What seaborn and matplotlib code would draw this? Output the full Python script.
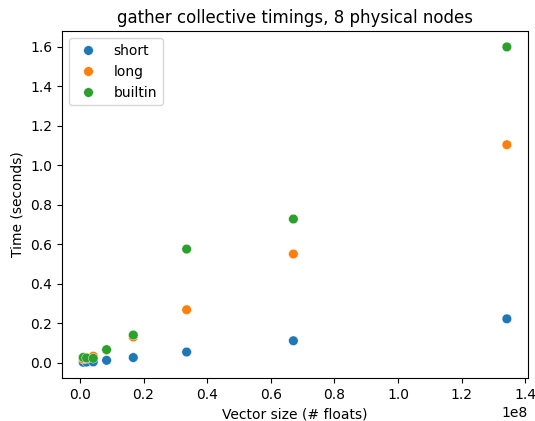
import matplotlib
matplotlib.use("Agg")
import matplotlib.pyplot as plt
import seaborn as sns
import pandas as pd

# Vector sizes (number of floats): 2^20 .. 2^27
sizes = [1048576, 2097152, 4194304, 8388608, 16777216, 33554432, 67108864, 134217728]

short_times = [0.002, 0.003, 0.004, 0.012, 0.026, 0.054, 0.111, 0.222]
long_times = [0.018, 0.022, 0.033, 0.064, 0.130, 0.268, 0.550, 1.103]
builtin_times = [0.027, 0.024, 0.022, 0.066, 0.140, 0.575, 0.727, 1.598]

methods = ["short", "long", "builtin"]

df = pd.DataFrame({
    "size": sizes * 3,
    "time": short_times + long_times + builtin_times,
    "method": [m for m in methods for _ in sizes],
})

fig, ax = plt.subplots(figsize=(5.35, 4.21), dpi=100)
fig.subplots_adjust(left=0.116, right=0.987, bottom=0.102, top=0.926)

sns.scatterplot(data=df, x="size", y="time", hue="method", hue_order=methods,
                palette=["#1f77b4", "#ff7f0e", "#2ca02c"], s=48,
                edgecolor="white", linewidth=0.3, ax=ax)

ax.legend(title=None, loc="upper left")
ax.set_title("gather collective timings, 8 physical nodes")
ax.set_xlabel("Vector size (# floats)")
ax.set_ylabel("Time (seconds)")

fig.savefig("out.png", dpi=100)
